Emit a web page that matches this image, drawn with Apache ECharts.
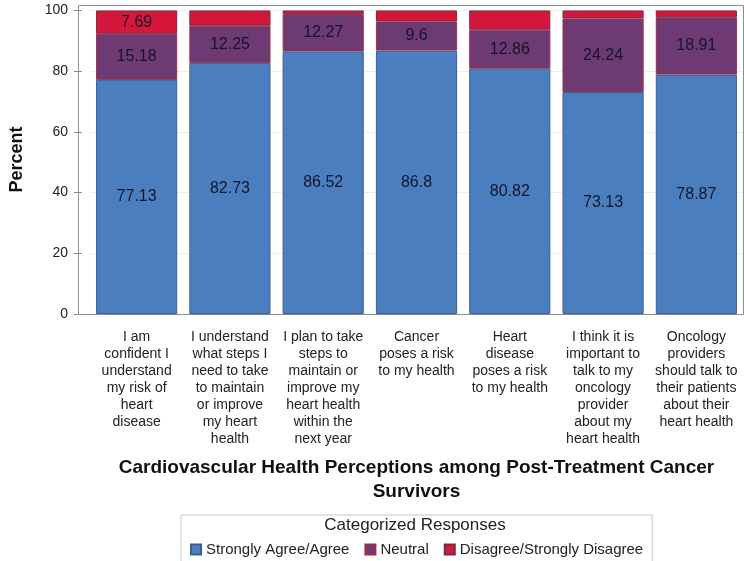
<!doctype html>
<html lang="en">
<head>
    <meta charset="UTF-8">
    <title>Cardiovascular Health Perceptions</title>
    <script src="https://cdn.jsdelivr.net/npm/echarts@6/dist/echarts.min.js"></script>
    <style>
        body { margin: 0; background: #fff; }
    </style>
</head>
<body>
<div id="main" style="width:744px; height:561px;"></div>

<script>
    // survey statements (line breaks as on the axis)
    var categories = [
        'I am\nconfident I\nunderstand\nmy risk of\nheart\ndisease',
        'I understand\nwhat steps I\nneed to take\nto maintain\nor improve\nmy heart\nhealth',
        'I plan to take\nsteps to\nmaintain or\nimprove my\nheart health\nwithin the\nnext year',
        'Cancer\nposes a risk\nto my health',
        'Heart\ndisease\nposes a risk\nto my health',
        'I think it is\nimportant to\ntalk to my\noncology\nprovider\nabout my\nheart health',
        'Oncology\nproviders\nshould talk to\ntheir patients\nabout their\nheart health'
    ];

    // percentages per response group
    var agree = [77.13, 82.73, 86.52, 86.8, 80.82, 73.13, 78.87];
    var neutral = [15.18, 12.25, 12.27, 9.6, 12.86, 24.24, 18.91];
    var disagree = [7.69, 5.02, 1.21, 3.6, 6.32, 2.63, 2.22];
    // only this bar shows its disagree value in the picture
    var disagreeLabelShown = [true, false, false, false, false, false, false];

    var yTicks = [0, 20, 40, 60, 80, 100];

    var seriesNames = ['Strongly Agree/Agree', 'Neutral', 'Disagree/Strongly Disagree'];
    var colors = ['#4a7ebf', '#6e3a73', '#d5173b'];

    var FONT = 'Liberation Sans, Arial, sans-serif';

    var labelStyle = {
        show: true,
        position: 'inside',
        fontFamily: FONT,
        fontSize: 16,
        color: '#15152a'
    };

    var myChart = echarts.init(document.getElementById('main'));
    myChart.setOption({
        animation: false,
        textStyle: { fontFamily: FONT },
        grid: {
            left: 86,
            right: 1,
            top: 5,
            bottom: 247
        },
        graphic: [
            {
                // plot frame, a bit wider than the category band
                type: 'rect',
                z: 100,
                silent: true,
                shape: { x: 78.5, y: 5.5, width: 665, height: 309 },
                style: { fill: null, stroke: '#8c8c8c', lineWidth: 1 }
            },
            {
                type: 'text',
                x: 415,
                y: 517,
                style: {
                    text: 'Categorized Responses',
                    font: '17px ' + FONT,
                    fill: '#222',
                    textAlign: 'center'
                }
            }
        ],
        legend: {
            data: seriesNames,
            left: 181,
            top: 515,
            padding: [27, 9, 8, 9],
            borderColor: '#c8c8c8',
            borderWidth: 1,
            itemWidth: 10,
            itemHeight: 10,
            itemGap: 15,
            icon: 'rect',
            textStyle: { fontFamily: FONT, fontSize: 15, color: '#222' }
        },
        xAxis: {
            type: 'category',
            data: categories,
            name: 'Cardiovascular Health Perceptions among Post-Treatment Cancer\nSurvivors',
            nameLocation: 'middle',
            nameGap: 142,
            nameTextStyle: {
                fontFamily: FONT,
                fontSize: 19,
                fontWeight: 'bold',
                color: '#111',
                lineHeight: 24
            },
            axisLine: { show: false },
            axisTick: { alignWithLabel: true, length: 5, lineStyle: { color: '#888' } },
            axisLabel: {
                interval: 0,
                margin: 15,
                fontFamily: FONT,
                fontSize: 14,
                lineHeight: 17,
                color: '#222',
                align: 'center',
                verticalAlign: 'top'
            }
        },
        yAxis: {
            type: 'value',
            min: 0,
            max: 101.8,
            interval: 20,
            offset: 8,
            name: 'Percent',
            nameLocation: 'middle',
            nameGap: 56,
            nameTextStyle: { fontFamily: FONT, fontSize: 18, fontWeight: 'bold', color: '#111' },
            axisLine: { show: false },
            axisTick: { show: true, length: 8, lineStyle: { color: '#888' } },
            axisLabel: {
                showMaxLabel: false,
                margin: 14,
                fontSize: 14,
                color: '#222',
                formatter: function (v) { return yTicks.indexOf(v) >= 0 ? String(v) : ''; }
            },
            splitLine: { lineStyle: { color: '#ececec' } }
        },
        series: [
            {
                name: seriesNames[0],
                type: 'bar',
                stack: 'resp',
                barCategoryGap: '13%',
                data: agree,
                itemStyle: { color: colors[0], borderColor: '#3c5f8f', borderWidth: 1 },
                label: labelStyle
            },
            {
                name: seriesNames[1],
                type: 'bar',
                stack: 'resp',
                data: neutral,
                itemStyle: { color: colors[1], borderColor: '#a02c4a', borderWidth: 1 },
                label: labelStyle
            },
            {
                name: seriesNames[2],
                type: 'bar',
                stack: 'resp',
                data: disagree.map(function (v, i) {
                    return { value: v, label: { show: disagreeLabelShown[i] } };
                }),
                itemStyle: { color: colors[2], borderColor: '#7a2a40', borderWidth: 1 },
                label: labelStyle
            }
        ]
    });
</script>
</body>
</html>
